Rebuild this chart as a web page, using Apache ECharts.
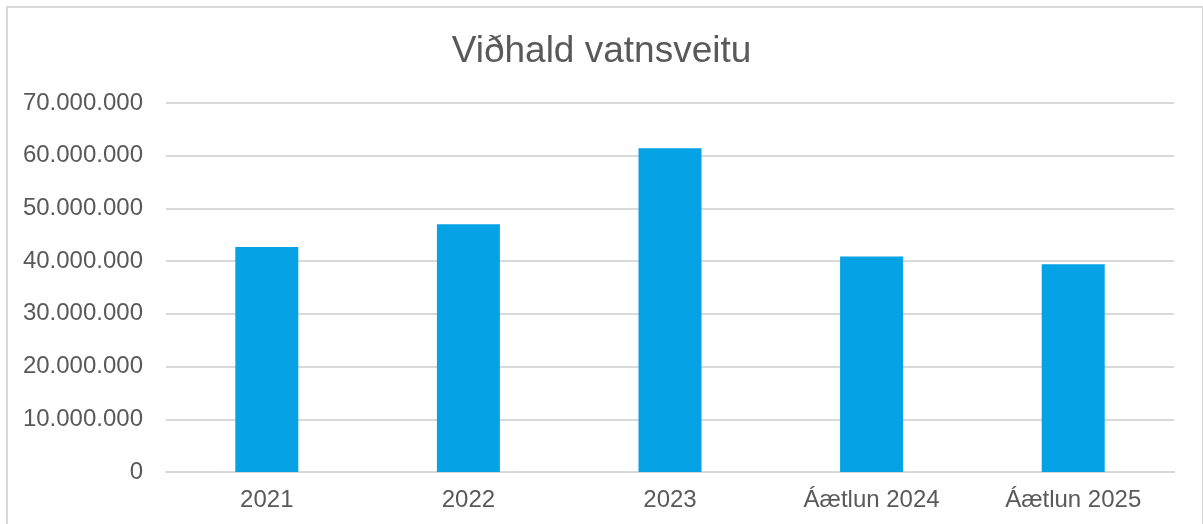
<!DOCTYPE html>
<html>
<head>
<meta charset="utf-8">
<script src="https://cdn.jsdelivr.net/npm/echarts@6/dist/echarts.min.js"></script>
<style>
  html, body { margin: 0; padding: 0; background: #fff; overflow: hidden; }
  #frame {
    position: absolute; left: 6px; top: 6px; width: 1194px; height: 540px;
    border-left: 2px solid #d9d9d9; border-top: 2px solid #d9d9d9; border-right: 1px solid #d9d9d9;
    pointer-events: none;
  }
  #chart { position: absolute; left: 0; top: 0; width: 1203px; height: 524px; }
</style>
</head>
<body>
<div id="chart"></div>
<div id="frame"></div>
<script>
const title = "Viðhald vatnsveitu";
const categories = ["2021", "2022", "2023", "Áætlun 2024", "Áætlun 2025"];
const values = [42700000, 47000000, 61400000, 40900000, 39400000];

const formatNumber = (v) => String(v).replace(/\B(?=(\d{3})+(?!\d))/g, ".");

const chart = echarts.init(document.getElementById("chart"));

const option = {
  animation: false,
  textStyle: { fontFamily: "Liberation Sans, Arial, sans-serif" },
  title: {
    text: title,
    left: "center",
    top: 28,
    textStyle: { fontSize: 37, fontWeight: "normal", color: "#595959" },
  },
  grid: { left: 166, right: 29, top: 103, bottom: 52 },
  xAxis: {
    type: "category",
    data: categories,
    axisLine: { show: true, lineStyle: { color: "#d9d9d9", width: 2 } },
    axisTick: { show: false },
    axisLabel: { color: "#595959", fontSize: 24, margin: 16 },
  },
  yAxis: {
    type: "value",
    min: 0,
    max: 70000000,
    interval: 10000000,
    axisLine: { show: false },
    axisTick: { show: false },
    axisLabel: { color: "#595959", fontSize: 24, margin: 23, formatter: formatNumber },
    splitLine: { lineStyle: { color: "#d9d9d9", width: 2 } },
  },
  series: [
    {
      type: "bar",
      data: values,
      barWidth: 63,
      itemStyle: { color: "#05a2e5" },
    },
  ],
};

chart.setOption(option);
</script>
</body>
</html>
